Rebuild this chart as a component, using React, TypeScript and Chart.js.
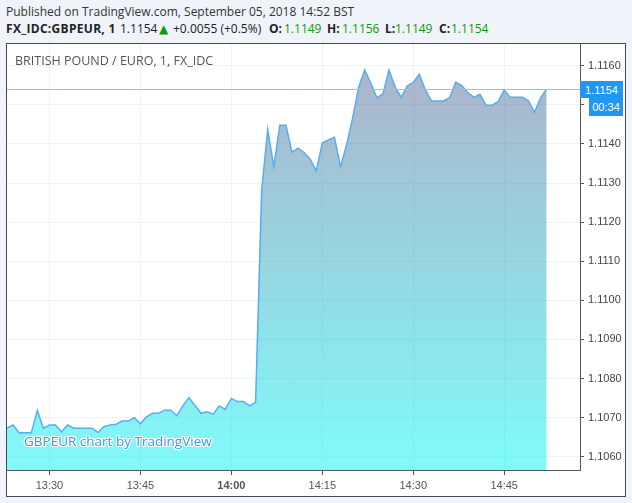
import React, { useEffect, useRef } from "react";
import { Chart, registerables } from "chart.js";

Chart.register(...registerables);

// 1-minute closes from 13:23 to 14:52 (index 0 = 13:23)
const prices: number[] = [
  1.10673, 1.10681, 1.10661, 1.10661, 1.10661, 1.10718, 1.10673, 1.10681, 1.10681, 1.10664,
  1.10681, 1.10673, 1.10673, 1.10673, 1.10673, 1.10662, 1.10677, 1.10681, 1.10683, 1.10691,
  1.10691, 1.10700, 1.10684, 1.10702, 1.10711, 1.10711, 1.10719, 1.10719, 1.10705, 1.10730,
  1.10751, 1.10731, 1.10711, 1.10715, 1.10709, 1.10730, 1.10721, 1.10749, 1.10741, 1.10741,
  1.10730, 1.10739, 1.11282, 1.11437, 1.11342, 1.11448, 1.11448, 1.11379, 1.11389, 1.11378,
  1.11361, 1.11331, 1.11402, 1.11410, 1.11417, 1.11342, 1.11397, 1.11466, 1.11545, 1.11589,
  1.11555, 1.11518, 1.11528, 1.11589, 1.11546, 1.11519, 1.11548, 1.11557, 1.11578, 1.11538,
  1.11510, 1.11510, 1.11510, 1.11518, 1.11558, 1.11549, 1.11531, 1.11519, 1.11527, 1.11499,
  1.11499, 1.11508, 1.11538, 1.11519, 1.11519, 1.11519, 1.11510, 1.11481, 1.11518, 1.11540,
];

const xTickMinutes: number[] = [7, 22, 37, 52, 67, 82];
const xTickLabels: string[] = ["13:30", "13:45", "14:00", "14:15", "14:30", "14:45"];
const yTickValues: number[] = [
  1.106, 1.107, 1.108, 1.109, 1.11, 1.111, 1.112, 1.113, 1.114, 1.115, 1.116,
];
const lastPrice = 1.1154;
const countdown = "00:34";
const yMin = 1.10566;
const yMax = 1.116555;
const xMin = 0;
const xMax = 94.5;

const AXIS_FONT = "'Liberation Sans', Arial, sans-serif";
const UI_FONT = "'Open Sans', 'DejaVu Sans', sans-serif";

export default function App() {
  const canvasRef = useRef<HTMLCanvasElement | null>(null);

  useEffect(() => {
    const canvas = canvasRef.current;
    if (!canvas) return;

    const priceLine = {
      id: "priceLine",
      afterDatasetsDraw(chart: any) {
        const { ctx, chartArea, scales } = chart;
        const y = Math.round(scales.y.getPixelForValue(lastPrice)) + 0.5;
        ctx.save();
        ctx.strokeStyle = "#86c8f4";
        ctx.lineWidth = 1;
        ctx.beginPath();
        ctx.moveTo(chartArea.left, y);
        ctx.lineTo(chartArea.right, y);
        ctx.stroke();
        ctx.restore();
      },
    };

    const chart = new Chart(canvas, {
      type: "line",
      data: {
        datasets: [
          {
            data: prices.map((p, i) => ({ x: i, y: p })),
            borderColor: "#56aef0",
            borderWidth: 1.5,
            pointRadius: 0,
            tension: 0,
            fill: "start",
            backgroundColor: (c: any) => {
              const ch = c.chart;
              const a = ch.chartArea;
              if (!a) return "rgba(0,0,0,0)";
              const g = ch.ctx.createLinearGradient(0, a.top, 0, a.bottom);
              g.addColorStop(0, "rgba(96,96,144,0.5)");
              g.addColorStop(1, "rgba(1,246,245,0.5)");
              return g;
            },
          },
        ],
      },
      options: {
        animation: false,
        responsive: false,
        maintainAspectRatio: false,
        layout: { padding: 0 },
        plugins: { legend: { display: false }, tooltip: { enabled: false } },
        scales: {
          x: {
            type: "linear",
            position: "bottom",
            min: xMin,
            max: xMax,
            afterBuildTicks: (s: any) => {
              s.ticks = xTickMinutes.map((v) => ({ value: v }));
            },
            afterFit: (s: any) => {
              s.height = 26;
              s.paddingLeft = 0;
              s.paddingRight = 0;
            },
            grid: { color: "#edf3f8", tickColor: "#555", tickLength: 5 },
            border: { color: "#555", width: 1 },
            ticks: {
              autoSkip: false,
              maxRotation: 0,
              padding: 4,
              color: "#555",
              callback: (v: any) => {
                const idx = xTickMinutes.indexOf(Number(v));
                return idx >= 0 ? xTickLabels[idx] : "";
              },
              font: (ctx: any) => ({
                family: AXIS_FONT,
                size: 11,
                weight: ctx.tick && ctx.tick.value === 37 ? "bold" : "normal",
              }),
            },
          },
          y: {
            type: "linear",
            position: "right",
            min: yMin,
            max: yMax,
            afterBuildTicks: (s: any) => {
              s.ticks = yTickValues.map((v) => ({ value: v }));
            },
            afterFit: (s: any) => {
              s.width = 45;
              s.paddingTop = 0;
              s.paddingBottom = 0;
            },
            grid: { color: "#edf3f8", tickColor: "#555", tickLength: 4 },
            border: { color: "#555", width: 1 },
            ticks: {
              padding: 4,
              color: "#444",
              font: { family: AXIS_FONT, size: 11 },
              callback: (v: any) => Number(v).toFixed(4),
            },
          },
        },
      },
      plugins: [priceLine],
    });

    return () => chart.destroy();
  }, []);

  const green = "#0a9d0a";
  const boxStyle: React.CSSProperties = {
    position: "absolute",
    background: "#2196f3",
    color: "#fff",
    fontFamily: AXIS_FONT,
    fontSize: 11,
    display: "flex",
    alignItems: "center",
    justifyContent: "center",
  };
  const hdr = (left: number, extra?: React.CSSProperties): React.CSSProperties => ({
    position: "absolute",
    left,
    top: 21,
    fontSize: 12,
    lineHeight: "16px",
    color: "#222",
    whiteSpace: "nowrap",
    ...extra,
  });

  return (
    <div
      style={{
        position: "fixed",
        left: 0,
        top: 0,
        width: 632,
        height: 503,
        background: "#f0f3fa",
        overflow: "hidden",
        fontFamily: UI_FONT,
      }}
    >
      <div
        style={{
          position: "absolute",
          left: 6,
          top: 4,
          fontSize: 12,
          lineHeight: "16px",
          color: "#333",
          whiteSpace: "nowrap",
        }}
      >
        Published on TradingView.com, September 05, 2018 14:52 BST
      </div>
      <span style={hdr(6, { fontWeight: "bold", letterSpacing: "0.3px" })}>FX_IDC:GBPEUR, 1</span>
      <span style={hdr(120)}>1.1154</span>
      <span style={hdr(159, { color: green })}>▲</span>
      <span style={hdr(173)}>+0.0055 (+0.5%)</span>
      <span style={hdr(269, { fontWeight: "bold" })}>O:</span>
      <span style={hdr(284, { color: green })}>1.1149</span>
      <span style={hdr(327, { fontWeight: "bold" })}>H:</span>
      <span style={hdr(342, { color: green })}>1.1156</span>
      <span style={hdr(385, { fontWeight: "bold" })}>L:</span>
      <span style={hdr(395, { color: green })}>1.1149</span>
      <span style={hdr(439, { fontWeight: "bold" })}>C:</span>
      <span style={hdr(451, { color: green })}>1.1154</span>
      <div
        style={{
          position: "absolute",
          left: 6,
          top: 43,
          width: 620,
          height: 454,
          boxSizing: "border-box",
          border: "1px solid #4a4a4a",
          background: "#fff",
        }}
      >
        <canvas ref={canvasRef} width={618} height={452} style={{ display: "block" }} />
      </div>
      <div
        style={{
          position: "absolute",
          left: 15,
          top: 53,
          fontSize: 12.5,
          lineHeight: "16px",
          color: "#555",
          whiteSpace: "nowrap",
        }}
      >
        BRITISH POUND / EURO, 1, FX_IDC
      </div>
      <div
        style={{
          position: "absolute",
          left: 24,
          top: 432,
          fontSize: 13.5,
          lineHeight: "18px",
          color: "#3898ee",
          whiteSpace: "nowrap",
          textShadow:
            "1px 0 0 #fff, -1px 0 0 #fff, 0 1px 0 #fff, 0 -1px 0 #fff, 1px 1px 0 #fff, -1px -1px 0 #fff, 1px -1px 0 #fff, -1px 1px 0 #fff",
        }}
      >
        GBPEUR chart by TradingView
      </div>
      <div style={{ ...boxStyle, left: 580, top: 81, width: 43, height: 17 }}>
        {lastPrice.toFixed(4)}
      </div>
      <div style={{ ...boxStyle, left: 589, top: 98, width: 34, height: 18 }}>{countdown}</div>
    </div>
  );
}
